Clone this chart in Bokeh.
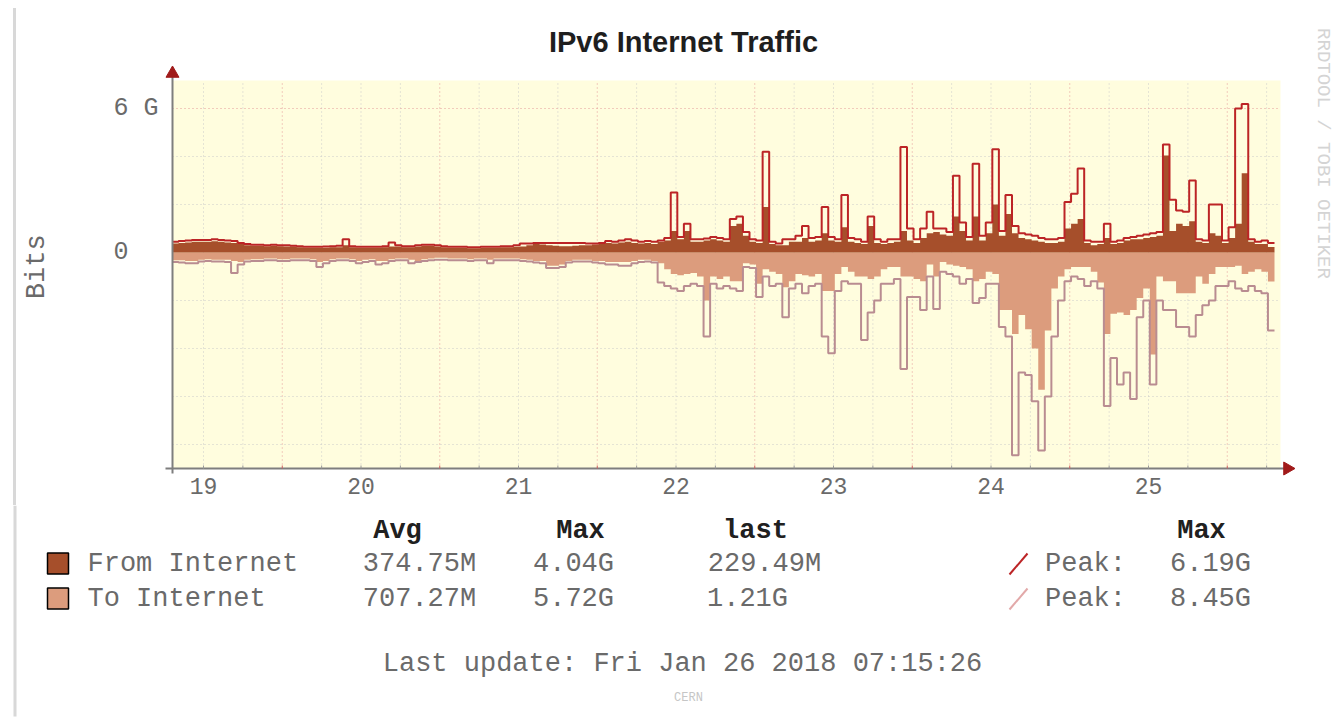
import numpy as np
from bokeh.plotting import figure
from bokeh.models import Range1d, FixedTicker, BoxAnnotation, Div
from bokeh.layouts import column, row
from bokeh.core.properties import value
from bokeh.embed import file_html
from bokeh.resources import INLINE

# ---------------- data (values in Gbit/s, hourly samples) ----------------
title_text = "IPv6 Internet Traffic"
day_labels = [19, 20, 21, 22, 23, 24, 25]
start_day = 18.8          # time of first sample, in days of January
step_days = 1.0 / 24.0    # one sample per hour

from_avg = [
    0.38, 0.40, 0.42, 0.45, 0.45, 0.45, 0.47, 0.45, 0.42, 0.40,
    0.35, 0.30, 0.28, 0.28, 0.26, 0.28, 0.26, 0.25, 0.25, 0.22,
    0.20, 0.20, 0.20, 0.20, 0.22, 0.22, 0.30, 0.22, 0.20, 0.20,
    0.20, 0.20, 0.22, 0.25, 0.25, 0.22, 0.22, 0.25, 0.28, 0.28,
    0.25, 0.22, 0.20, 0.20, 0.20, 0.18, 0.18, 0.20, 0.20, 0.20,
    0.22, 0.22, 0.24, 0.25, 0.30, 0.35, 0.33, 0.30, 0.28, 0.26,
    0.26, 0.28, 0.30, 0.30, 0.33, 0.35, 0.40, 0.38, 0.42, 0.45,
    0.40, 0.38, 0.40, 0.35, 0.45, 0.50, 0.90, 0.55, 0.90, 0.45,
    0.45, 0.50, 0.55, 0.50, 0.45, 1.10, 1.20, 0.70, 0.45, 0.40,
    1.90, 0.35, 0.30, 0.30, 0.45, 0.45, 0.60, 0.45, 0.50, 0.80,
    0.50, 0.45, 1.05, 0.45, 0.40, 0.35, 1.10, 0.40, 0.35, 0.40,
    0.45, 0.90, 0.50, 0.40, 0.60, 0.80, 0.85, 0.75, 0.70, 1.50,
    0.90, 0.50, 1.50, 0.50, 0.80, 2.00, 0.70, 1.60, 0.80, 0.60,
    0.55, 0.50, 0.45, 0.40, 0.40, 0.45, 1.00, 1.20, 1.40, 0.40,
    0.30, 0.35, 0.60, 0.35, 0.40, 0.50, 0.55, 0.55, 0.60, 0.65,
    0.70, 4.04, 0.90, 1.20, 1.10, 1.30, 0.45, 0.40, 0.80, 0.70,
    0.40, 0.60, 1.20, 3.30, 0.45, 0.35, 0.35, 0.23,
]
from_peak = [
    0.45, 0.48, 0.50, 0.52, 0.52, 0.52, 0.55, 0.52, 0.50, 0.48,
    0.40, 0.35, 0.32, 0.32, 0.30, 0.32, 0.30, 0.30, 0.28, 0.26,
    0.24, 0.24, 0.24, 0.25, 0.26, 0.28, 0.55, 0.26, 0.24, 0.24,
    0.24, 0.24, 0.26, 0.42, 0.30, 0.26, 0.26, 0.30, 0.32, 0.32,
    0.30, 0.26, 0.24, 0.24, 0.24, 0.22, 0.22, 0.24, 0.24, 0.24,
    0.26, 0.26, 0.30, 0.38, 0.38, 0.40, 0.40, 0.40, 0.40, 0.40,
    0.40, 0.40, 0.40, 0.38, 0.38, 0.40, 0.48, 0.45, 0.50, 0.55,
    0.50, 0.45, 0.48, 0.45, 0.50, 0.60, 2.50, 0.65, 1.20, 0.55,
    0.55, 0.58, 0.65, 0.60, 0.55, 1.40, 1.50, 0.85, 0.55, 0.50,
    4.20, 0.45, 0.38, 0.55, 0.55, 0.70, 1.10, 0.60, 0.65, 1.90,
    0.65, 0.55, 2.40, 0.60, 0.55, 0.45, 1.50, 0.55, 0.45, 0.55,
    0.55, 4.40, 1.00, 0.55, 1.00, 1.70, 1.00, 1.00, 0.85, 3.20,
    1.25, 0.65, 3.70, 0.70, 1.25, 4.30, 0.90, 2.40, 1.10, 0.80,
    0.75, 0.70, 0.60, 0.55, 0.55, 0.60, 2.10, 2.45, 3.50, 0.50,
    0.45, 0.45, 1.20, 0.45, 0.50, 0.60, 0.65, 0.70, 0.75, 0.80,
    0.85, 4.50, 2.20, 1.75, 1.70, 3.00, 0.55, 0.50, 2.00, 2.00,
    0.50, 1.05, 6.00, 6.19, 0.55, 0.45, 0.50, 0.40,
]
to_avg = [
    0.32, 0.32, 0.35, 0.35, 0.30, 0.28, 0.30, 0.30, 0.30, 0.35,
    0.40, 0.30, 0.28, 0.28, 0.25, 0.25, 0.28, 0.28, 0.25, 0.25,
    0.25, 0.28, 0.40, 0.35, 0.28, 0.25, 0.25, 0.28, 0.35, 0.30,
    0.28, 0.35, 0.35, 0.28, 0.25, 0.25, 0.30, 0.35, 0.28, 0.25,
    0.22, 0.22, 0.25, 0.25, 0.25, 0.28, 0.25, 0.25, 0.30, 0.25,
    0.25, 0.25, 0.25, 0.28, 0.30, 0.35, 0.35, 0.55, 0.55, 0.50,
    0.35, 0.30, 0.30, 0.30, 0.35, 0.35, 0.40, 0.40, 0.40, 0.40,
    0.35, 0.30, 0.30, 0.35, 0.45, 0.70, 0.90, 0.95, 0.90, 0.85,
    1.00, 2.00, 1.00, 1.10, 1.00, 1.20, 1.20, 0.45, 0.50, 1.30,
    0.70, 0.80, 0.90, 1.45, 1.20, 0.90, 0.95, 1.00, 0.90, 1.60,
    1.60, 0.90, 0.60, 0.80, 1.00, 1.00, 1.10, 1.00, 0.70, 0.60,
    0.60, 1.00, 1.00, 1.10, 1.20, 0.50, 1.00, 0.40, 0.50, 0.55,
    0.60, 0.70, 1.20, 1.10, 0.80, 0.90, 2.40, 2.40, 3.40, 2.60,
    3.20, 4.00, 5.72, 3.25, 1.50, 1.00, 0.70, 0.60, 0.60, 0.60,
    0.80, 1.25, 3.40, 2.55, 2.50, 2.60, 2.40, 1.90, 1.50, 4.25,
    1.00, 1.20, 1.20, 1.70, 1.70, 1.70, 1.00, 1.30, 0.90, 0.60,
    0.60, 0.60, 0.55, 0.90, 0.80, 0.70, 0.80, 1.21,
]
to_peak = [
    0.40, 0.42, 0.45, 0.45, 0.38, 0.35, 0.38, 0.38, 0.40, 0.85,
    0.50, 0.38, 0.35, 0.35, 0.32, 0.32, 0.35, 0.35, 0.32, 0.32,
    0.32, 0.35, 0.60, 0.45, 0.35, 0.32, 0.32, 0.35, 0.45, 0.40,
    0.35, 0.50, 0.45, 0.35, 0.32, 0.32, 0.45, 0.40, 0.35, 0.32,
    0.30, 0.30, 0.32, 0.32, 0.32, 0.35, 0.32, 0.32, 0.45, 0.32,
    0.32, 0.32, 0.32, 0.35, 0.38, 0.42, 0.45, 0.65, 0.65, 0.60,
    0.42, 0.38, 0.38, 0.38, 0.42, 0.45, 0.50, 0.50, 0.55, 0.55,
    0.45, 0.40, 0.38, 0.42, 1.25, 1.40, 1.50, 1.60, 1.40, 1.30,
    1.40, 3.50, 1.30, 1.50, 1.40, 1.50, 1.60, 0.60, 0.65, 1.85,
    1.00, 1.40, 1.30, 2.70, 1.50, 1.30, 1.70, 1.40, 1.30, 3.50,
    4.20, 1.60, 1.20, 1.30, 1.30, 3.65, 2.50, 2.00, 1.30, 1.30,
    1.10, 4.85, 1.85, 1.85, 2.40, 1.00, 2.35, 0.80, 0.90, 1.00,
    1.30, 1.10, 2.10, 1.90, 1.30, 1.30, 3.10, 3.50, 8.45, 5.00,
    5.10, 6.20, 8.25, 6.00, 3.50, 2.00, 1.20, 1.00, 1.10, 1.40,
    1.20, 1.50, 6.40, 4.40, 5.50, 5.00, 6.10, 2.70, 2.00, 5.50,
    2.00, 2.40, 2.40, 3.10, 3.10, 3.50, 2.60, 2.20, 2.00, 1.40,
    1.40, 1.20, 1.50, 1.60, 1.40, 1.60, 1.70, 3.25,
]

series_names = ["From Internet", "To Internet"]
stat_headers = ["Avg", "Max", "last"]
from_stats = ["374.75M", "4.04G", "229.49M"]
to_stats = ["707.27M", "5.72G", "1.21G"]
peak_header = "Max"
peak_label = "Peak:"
peak_stats = ["6.19G", "8.45G"]
update_text = "Last update: Fri Jan 26 2018 07:15:26"
y_axis_title = "Bits"
y_ticks = [0, 6]
y_tick_labels = {0: "0\u00a0\u00a0", 6: "6 G"}
vendor_text = "RRDTOOL / TOBI OETIKER"
site_text = "CERN"

# ---------------- styling ----------------
BG = "#FFFDDE"
FROM_FILL = "#A64F2B"
FROM_LINE = "#BC2426"
TO_FILL = "#DC9C7D"
TO_LINE = "#B98C91"
TXT = "#6A6A6A"
HEAD = "#202020"
FRAME = "#D8D8D8"
AXIS = "#7E7E7E"
ARROW = "#A01A1A"
MONO = "Liberation Mono"

W, H = 1335, 718
TOP_H, LEFT_W, MID_BOTTOM = 8, 17, 505      # page layout (pixels)
FR_L, FR_B = 162, 476                       # main frame left / bottom on page
# data coordinates of the plotting area (yellow)
X0, X1 = 18.8032, 25.838
Y0, Y1 = -9.0, 7.1667
# page pixel <-> data mapping (157.5 px per day, 24 px per Gbit)
def d_of(px): return 19 + (px - 203) / 157.5
def v_of(py): return (252 - py) / 24.0


def strip(w, h, x_rng, y_rng):
    f = figure(width=w, height=h, x_range=Range1d(*x_rng), y_range=Range1d(*y_rng),
               x_axis_type=None, y_axis_type=None, min_border=0,
               output_backend="svg", toolbar_location=None, title=None)
    f.outline_line_color = None
    f.background_fill_color = "white"
    f.border_fill_color = "white"
    return f


def txt(f, x, y, s, size, color=TXT, bold=False, font=MONO, align="center", angle=0.0, **kw):
    f.text(x=[x], y=[y], text=[s], text_font=value(font), text_font_size=value(f"{size}px"),
           text_color=color, text_font_style="bold" if bold else "normal",
           text_align=align, text_baseline="middle", angle=angle, **kw)


# ---------------- top strip (frame line) ----------------
top = strip(W, TOP_H, (0, W), (TOP_H, 0))
top.segment(x0=[13, 14.5], y0=[5.5, 5.5], x1=[W, 14.5], y1=[5.5, TOP_H],
            line_color=FRAME, line_width=3)

# ---------------- left strip (frame line, plain CSS) ----------------
left = Div(text="", width=LEFT_W, height=MID_BOTTOM - TOP_H,
           styles={"background": f"linear-gradient(to right, white 13px, {FRAME} 13px, "
                                 f"{FRAME} 16px, white 16px)",
                   "margin": "0", "padding": "0"})

# ---------------- main chart ----------------
p = figure(frame_width=W - FR_L, frame_height=FR_B - TOP_H,
           min_border_left=FR_L - LEFT_W, min_border_right=0,
           min_border_top=0, min_border_bottom=MID_BOTTOM - FR_B,
           x_range=Range1d(d_of(FR_L), d_of(W)), y_range=Range1d(v_of(FR_B), v_of(TOP_H)),
           output_backend="svg", toolbar_location=None, title=None)
p.background_fill_color = "white"
p.border_fill_color = "white"
p.outline_line_color = None
p.xgrid.visible = False
p.ygrid.visible = False
p.extra_x_ranges = {"px": Range1d(FR_L, W)}
p.extra_y_ranges = {"py": Range1d(FR_B, TOP_H)}
PX = dict(x_range_name="px", y_range_name="py")

# plotting area background
p.add_layout(BoxAnnotation(left=X0, right=X1, bottom=Y0, top=Y1, fill_color=BG,
                           fill_alpha=1.0, line_color=None, level="underlay"))

# grid lines (dotted, 6 h minor / noon major, 2 G steps)
minor_x = [d + q for d in [18] + day_labels for q in (0.0, 0.25, 0.75) if X0 < d + q < X1]
major_x = [d + 0.5 for d in day_labels if d + 0.5 < X1]
minor_y = [-8, -6, -4, -2, 2, 4]
major_y = [6]
p.segment(x0=minor_x, y0=[Y0] * len(minor_x), x1=minor_x, y1=[Y1] * len(minor_x),
          line_color="#CBCBCB", line_dash="1 3", line_width=1)
p.segment(x0=major_x, y0=[Y0] * len(major_x), x1=major_x, y1=[Y1] * len(major_x),
          line_color="#E59A9A", line_dash="1 3", line_width=1)
p.segment(x0=[X0] * len(minor_y), y0=minor_y, x1=[X1] * len(minor_y), y1=minor_y,
          line_color="#CBCBCB", line_dash="1 3", line_width=1)
p.segment(x0=[X0] * len(major_y), y0=major_y, x1=[X1] * len(major_y), y1=major_y,
          line_color="#E59A9A", line_dash="1 3", line_width=1)

# data
n = len(from_avg)
xs = start_day + np.arange(n + 1) * step_days
def ext(a):
    a = np.asarray(a, dtype=float)
    return np.append(a, a[-1])
zero = np.zeros(n + 1)
p.varea_step(x=xs, y1=zero, y2=-ext(to_avg), step_mode="after", fill_color=TO_FILL)
p.varea_step(x=xs, y1=zero, y2=ext(from_avg), step_mode="after", fill_color=FROM_FILL)
p.step(x=xs, y=-ext(to_peak), mode="after", line_color=TO_LINE, line_width=2)
p.step(x=xs, y=ext(from_peak), mode="after", line_color=FROM_LINE, line_width=2)

# axis lines with arrows and small ticks
p.segment(x0=[X0, d_of(165)], y0=[v_of(473), Y0], x1=[X0, d_of(1284)], y1=[v_of(74), Y0],
          line_color=AXIS, line_width=2)
p.segment(x0=minor_x + major_x, y0=[Y0] * (len(minor_x) + len(major_x)),
          x1=minor_x + major_x, y1=[v_of(465)] * (len(minor_x) + len(major_x)),
          line_color=["#9A9A9A"] * len(minor_x) + ["#D06060"] * len(major_x), line_width=1)
p.scatter(x=[X0], y=[v_of(73)], marker="triangle", size=13, fill_color=ARROW,
          line_color=ARROW, angle=0.0)
p.scatter(x=[d_of(1287)], y=[Y0], marker="triangle", size=13, fill_color=ARROW,
          line_color=ARROW, angle=-np.pi / 2)

# axes (labels only; the lines are drawn above)
for ax in (p.xaxis[0], p.yaxis[0]):
    ax.axis_line_color = None
    ax.major_tick_line_color = None
    ax.minor_tick_line_color = None
    ax.major_tick_in = 0
    ax.major_tick_out = 0
    ax.minor_tick_in = 0
    ax.minor_tick_out = 0
    ax.major_label_text_font = MONO
    ax.major_label_text_color = TXT

xa = p.xaxis[0]
xa.ticker = FixedTicker(ticks=day_labels)
xa.major_label_standoff = 1
xa.major_label_text_font_size = "23px"

ya = p.yaxis[0]
ya.ticker = FixedTicker(ticks=y_ticks)
ya.major_label_overrides = y_tick_labels
ya.major_label_standoff = 4
ya.major_label_text_font_size = "25px"
ya.axis_label = y_axis_title + "\u00a0\u00a0\u00a0"
ya.axis_label_text_font = MONO
ya.axis_label_text_font_size = "27px"
ya.axis_label_text_font_style = "normal"
ya.axis_label_text_color = TXT
ya.axis_label_standoff = 58

# title and vendor text
txt(p, 683, 41, title_text, 29, color="#1E1E1E", bold=True, font="Liberation Sans", **PX)
txt(p, 1322, 153, vendor_text, 19, color="#D4D4D4", angle=-np.pi / 2, **PX)

# ---------------- bottom: legend and statistics ----------------
bot = strip(W, H - MID_BOTTOM, (0, W), (H, MID_BOTTOM))
bot.segment(x0=[14.5], y0=[MID_BOTTOM], x1=[14.5], y1=[H - 2], line_color=FRAME, line_width=3)

rows_y = [563, 598]
bot.quad(left=[47, 47], right=[68, 68], top=[r - 10.5 for r in rows_y],
         bottom=[r + 10.5 for r in rows_y], fill_color=[FROM_FILL, TO_FILL],
         line_color="black", line_width=1.5)
for name, ry in zip(series_names, rows_y):
    txt(bot, 87, ry, name, 27, align="left")

for s, cx in zip(stat_headers, [397, 580, 755]):
    txt(bot, cx, 530, s, 27, color=HEAD, bold=True)
txt(bot, 1201, 530, peak_header, 27, color=HEAD, bold=True)

for vals, ry, last_x in [(from_stats, rows_y[0], 764), (to_stats, rows_y[1], 747)]:
    for s, cx in zip(vals, [419, 573, last_x]):
        txt(bot, cx, ry, s, 27)

bot.segment(x0=[1009, 1009], y0=[r + 11 for r in rows_y], x1=[1027, 1027],
            y1=[r - 10 for r in rows_y], line_color=[FROM_LINE, "#E2A9A9"], line_width=2)
for s, ry in zip(peak_stats, rows_y):
    txt(bot, 1085, ry, peak_label, 27)
    txt(bot, 1210, ry, s, 27)

txt(bot, 682, 663, update_text, 27)
txt(bot, 688, 697, site_text, 12, color="#C6C6C6")

layout = column(top, row(left, p), bot)
open("out.html", "w").write(file_html(layout, INLINE, title_text))
